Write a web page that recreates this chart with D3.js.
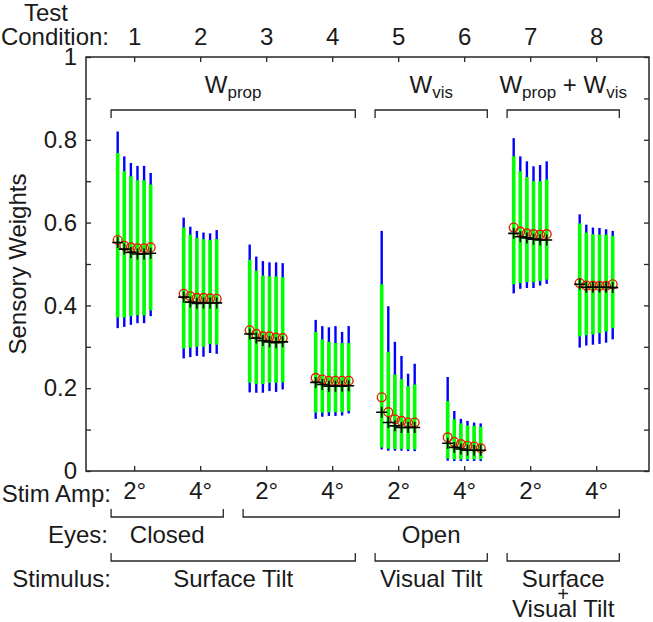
<!DOCTYPE html>
<html><head><meta charset="utf-8">
<script src="https://cdn.jsdelivr.net/npm/d3@7"></script>
<style>
body{margin:0;background:#fff;}
text{font-family:"Liberation Sans",Arial,sans-serif;fill:#1a1a1a;}
</style></head>
<body><svg id="c" width="653" height="622"></svg>
<script>
const conditions = [1,2,3,4,5,6,7,8];
const stimAmp = ["2°","4°","2°","4°","2°","4°","2°","4°"];
const offsets = [-0.25,-0.15,-0.05,0.05,0.15,0.25];
const yTicks = [0,0.1,0.2,0.3,0.4,0.5,0.6,0.7,0.8,0.9,1];

const blueHi = [
 [0.820,0.760,0.744,0.737,0.737,0.720],
 [0.612,0.590,0.580,0.576,0.574,0.582],
 [0.547,0.518,0.507,0.504,0.504,0.502],
 [0.365,0.350,0.347,0.350,0.336,0.350],
 [0.580,0.398,0.312,0.278,0.235,0.259],
 [0.227,0.145,0.126,0.121,0.117,0.115],
 [0.804,0.760,0.748,0.736,0.739,0.748],
 [0.620,0.595,0.588,0.587,0.584,0.580]];
const greenHi = [
 [0.768,0.724,0.712,0.702,0.702,0.692],
 [0.588,0.571,0.563,0.560,0.558,0.560],
 [0.510,0.484,0.472,0.470,0.470,0.468],
 [0.336,0.318,0.312,0.309,0.309,0.309],
 [0.451,0.288,0.233,0.222,0.205,0.209],
 [0.169,0.125,0.115,0.110,0.109,0.107],
 [0.760,0.724,0.710,0.700,0.700,0.704],
 [0.598,0.576,0.572,0.571,0.571,0.568]];
const greenLo = [
 [0.371,0.371,0.374,0.376,0.376,0.388],
 [0.296,0.298,0.300,0.300,0.307,0.305],
 [0.213,0.210,0.210,0.213,0.213,0.214],
 [0.141,0.141,0.142,0.142,0.142,0.145],
 [0.057,0.054,0.053,0.053,0.052,0.052],
 [0.030,0.028,0.028,0.028,0.028,0.028],
 [0.451,0.454,0.456,0.456,0.459,0.462],
 [0.325,0.328,0.330,0.333,0.337,0.345]];
const blueLo = [
 [0.345,0.348,0.353,0.357,0.357,0.374],
 [0.272,0.275,0.278,0.276,0.285,0.283],
 [0.190,0.189,0.189,0.193,0.191,0.197],
 [0.126,0.131,0.133,0.133,0.134,0.139],
 [0.052,0.049,0.049,0.049,0.048,0.048],
 [0.025,0.024,0.024,0.024,0.024,0.024],
 [0.429,0.440,0.442,0.442,0.448,0.452],
 [0.298,0.303,0.305,0.307,0.310,0.318]];
const circleVals = [
 [0.558,0.544,0.540,0.538,0.538,0.540],
 [0.428,0.422,0.418,0.418,0.417,0.416],
 [0.340,0.331,0.325,0.325,0.322,0.321],
 [0.225,0.221,0.218,0.218,0.218,0.218],
 [0.178,0.142,0.125,0.121,0.117,0.117],
 [0.081,0.070,0.065,0.061,0.059,0.055],
 [0.588,0.578,0.574,0.572,0.571,0.572],
 [0.454,0.448,0.447,0.447,0.447,0.451]];
const plusVals = [
 [0.552,0.536,0.528,0.524,0.524,0.526],
 [0.420,0.408,0.405,0.406,0.406,0.406],
 [0.331,0.321,0.315,0.312,0.310,0.312],
 [0.214,0.209,0.205,0.205,0.205,0.206],
 [0.142,0.117,0.109,0.105,0.105,0.105],
 [0.067,0.057,0.053,0.050,0.050,0.050],
 [0.574,0.566,0.563,0.560,0.558,0.558],
 [0.451,0.444,0.444,0.444,0.444,0.443]];

const topGroups = [
 {from:0.65,to:4.35,label:[["W",0],["prop",1]]},
 {from:4.65,to:6.35,label:[["W",0],["vis",1]]},
 {from:6.65,to:8.35,label:[["W",0],["prop",1],[" + W",0],["vis",1]]}];
const eyeGroups = [{from:0.65,to:2.35,label:"Closed",at:1.5},{from:2.65,to:8.35,label:"Open",at:5.5}];
const stimGroups = [{from:0.65,to:4.35,label:["Surface Tilt"],at:2.5},
 {from:4.65,to:6.35,label:["Visual Tilt"],at:5.5},
 {from:6.65,to:8.35,label:["Surface","+","Visual Tilt"],at:7.5}];

const svg = d3.select("#c");
const x = d3.scaleLinear().domain([0.27,8.8]).range([86,649]);
const y = d3.scaleLinear().domain([0,1]).range([471,57]);
const FS = 24;
const axisColor = "#262626";

svg.append("rect").attr("x",x(0.27)).attr("y",y(1)).attr("width",x(8.8)-x(0.27)).attr("height",y(0)-y(1))
  .attr("fill","none").attr("stroke",axisColor).attr("stroke-width",1.5);

const fmt = v => { const r = Math.round(v*10)/10; return (Math.round(r*10)%2===0) ? d3.format("~g")(r) : ""; };
const gL = svg.append("g").attr("transform",`translate(${x(0.27)},0)`)
  .call(d3.axisLeft(y).tickValues(yTicks).tickSizeInner(-5).tickSizeOuter(0).tickPadding(9).tickFormat(fmt));
const gR = svg.append("g").attr("transform",`translate(${x(8.8)},0)`)
  .call(d3.axisRight(y).tickValues(yTicks).tickSizeInner(-5).tickSizeOuter(0).tickFormat(""));
const gT = svg.append("g").attr("transform",`translate(0,${y(1)})`)
  .call(d3.axisTop(x).tickValues(conditions).tickSizeInner(-5).tickSizeOuter(0).tickPadding(12).tickFormat(d3.format("d")));
const gB = svg.append("g").attr("transform",`translate(0,${y(0)})`)
  .call(d3.axisBottom(x).tickValues(conditions).tickSizeInner(-5).tickSizeOuter(0).tickPadding(11).tickFormat((d,i)=>stimAmp[i]));
[gL,gR,gT,gB].forEach(g=>{
  g.select(".domain").remove();
  g.selectAll("line").attr("stroke",axisColor).attr("stroke-width",1.3);
  g.selectAll("text").attr("font-size",FS).attr("fill","#1a1a1a").attr("font-family","Liberation Sans, Arial, sans-serif");
});

svg.append("text").attr("transform",`translate(26,${(y(0)+y(1))/2}) rotate(-90)`)
  .attr("text-anchor","middle").attr("font-size",FS).text("Sensory Weights");

svg.append("text").attr("x",46).attr("y",21).attr("text-anchor","middle").attr("font-size",FS).text("Test");
svg.append("text").attr("x",109).attr("y",45).attr("text-anchor","end").attr("font-size",FS).text("Condition:");
svg.append("text").attr("x",111).attr("y",502).attr("text-anchor","end").attr("font-size",FS).text("Stim Amp:");
svg.append("text").attr("x",108).attr("y",543).attr("text-anchor","end").attr("font-size",FS).text("Eyes:");
svg.append("text").attr("x",111).attr("y",587).attr("text-anchor","end").attr("font-size",FS).text("Stimulus:");

const items = [];
conditions.forEach((c,ci)=>offsets.forEach((o,j)=>items.push({xv:c+o,ci,j})));
const gBars = svg.append("g");
gBars.selectAll("line.blue").data(items).join("line").attr("class","blue")
  .attr("x1",d=>x(d.xv)).attr("x2",d=>x(d.xv))
  .attr("y1",d=>y(blueHi[d.ci][d.j])).attr("y2",d=>y(blueLo[d.ci][d.j]))
  .attr("stroke","#0000ff").attr("stroke-width",2.4);
gBars.selectAll("line.green").data(items).join("line").attr("class","green")
  .attr("x1",d=>x(d.xv)).attr("x2",d=>x(d.xv))
  .attr("y1",d=>y(greenHi[d.ci][d.j])).attr("y2",d=>y(greenLo[d.ci][d.j]))
  .attr("stroke","#00ff00").attr("stroke-width",3.6);
gBars.selectAll("circle").data(items).join("circle")
  .attr("cx",d=>x(d.xv)).attr("cy",d=>y(circleVals[d.ci][d.j])).attr("r",4.4)
  .attr("fill","none").attr("stroke","#e02000").attr("stroke-width",1.4);
const plusSize = 5.5;
gBars.selectAll("path.plus").data(items).join("path").attr("class","plus")
  .attr("d",d=>{const cx=x(d.xv), cy=y(plusVals[d.ci][d.j]);
    return `M${cx-plusSize},${cy}H${cx+plusSize}M${cx},${cy-plusSize}V${cy+plusSize}`;})
  .attr("stroke","#000").attr("stroke-width",1.6).attr("fill","none");

const bracket = (g, from, to, yy, dir) => {
  g.append("path").attr("d",`M${x(from)},${yy+dir*8}V${yy}H${x(to)}V${yy+dir*8}`)
   .attr("fill","none").attr("stroke",axisColor).attr("stroke-width",1.3);
};
const gTop = svg.append("g");
topGroups.forEach(gp=>{
  bracket(gTop, gp.from, gp.to, 110, 1);
  const t = gTop.append("text").attr("x",x((gp.from+gp.to)/2)).attr("y",98).attr("text-anchor","middle").attr("font-size",FS);
  gp.label.forEach(([s,sub])=>{
    if(sub){ t.append("tspan").attr("font-size",17).attr("dy",5).text(s); }
    else { t.append("tspan").attr("font-size",FS).attr("dy", t.selectAll("tspan").size()?-5:0).text(s); }
  });
});
const gBot = svg.append("g");
eyeGroups.forEach(gp=>{
  bracket(gBot, gp.from, gp.to, 517, -1);
  gBot.append("text").attr("x",x(gp.at)).attr("y",543).attr("text-anchor","middle").attr("font-size",FS).text(gp.label);
});
stimGroups.forEach(gp=>{
  bracket(gBot, gp.from, gp.to, 561, -1);
  gp.label.forEach((s,k)=>{
    gBot.append("text").attr("x",x(gp.at)).attr("y",587 + (gp.label.length>1 ? [0,14,30][k] : 0))
      .attr("text-anchor","middle").attr("font-size",k===1 && gp.label.length>1 ? 20 : FS).text(s);
  });
});
</script></body></html>
